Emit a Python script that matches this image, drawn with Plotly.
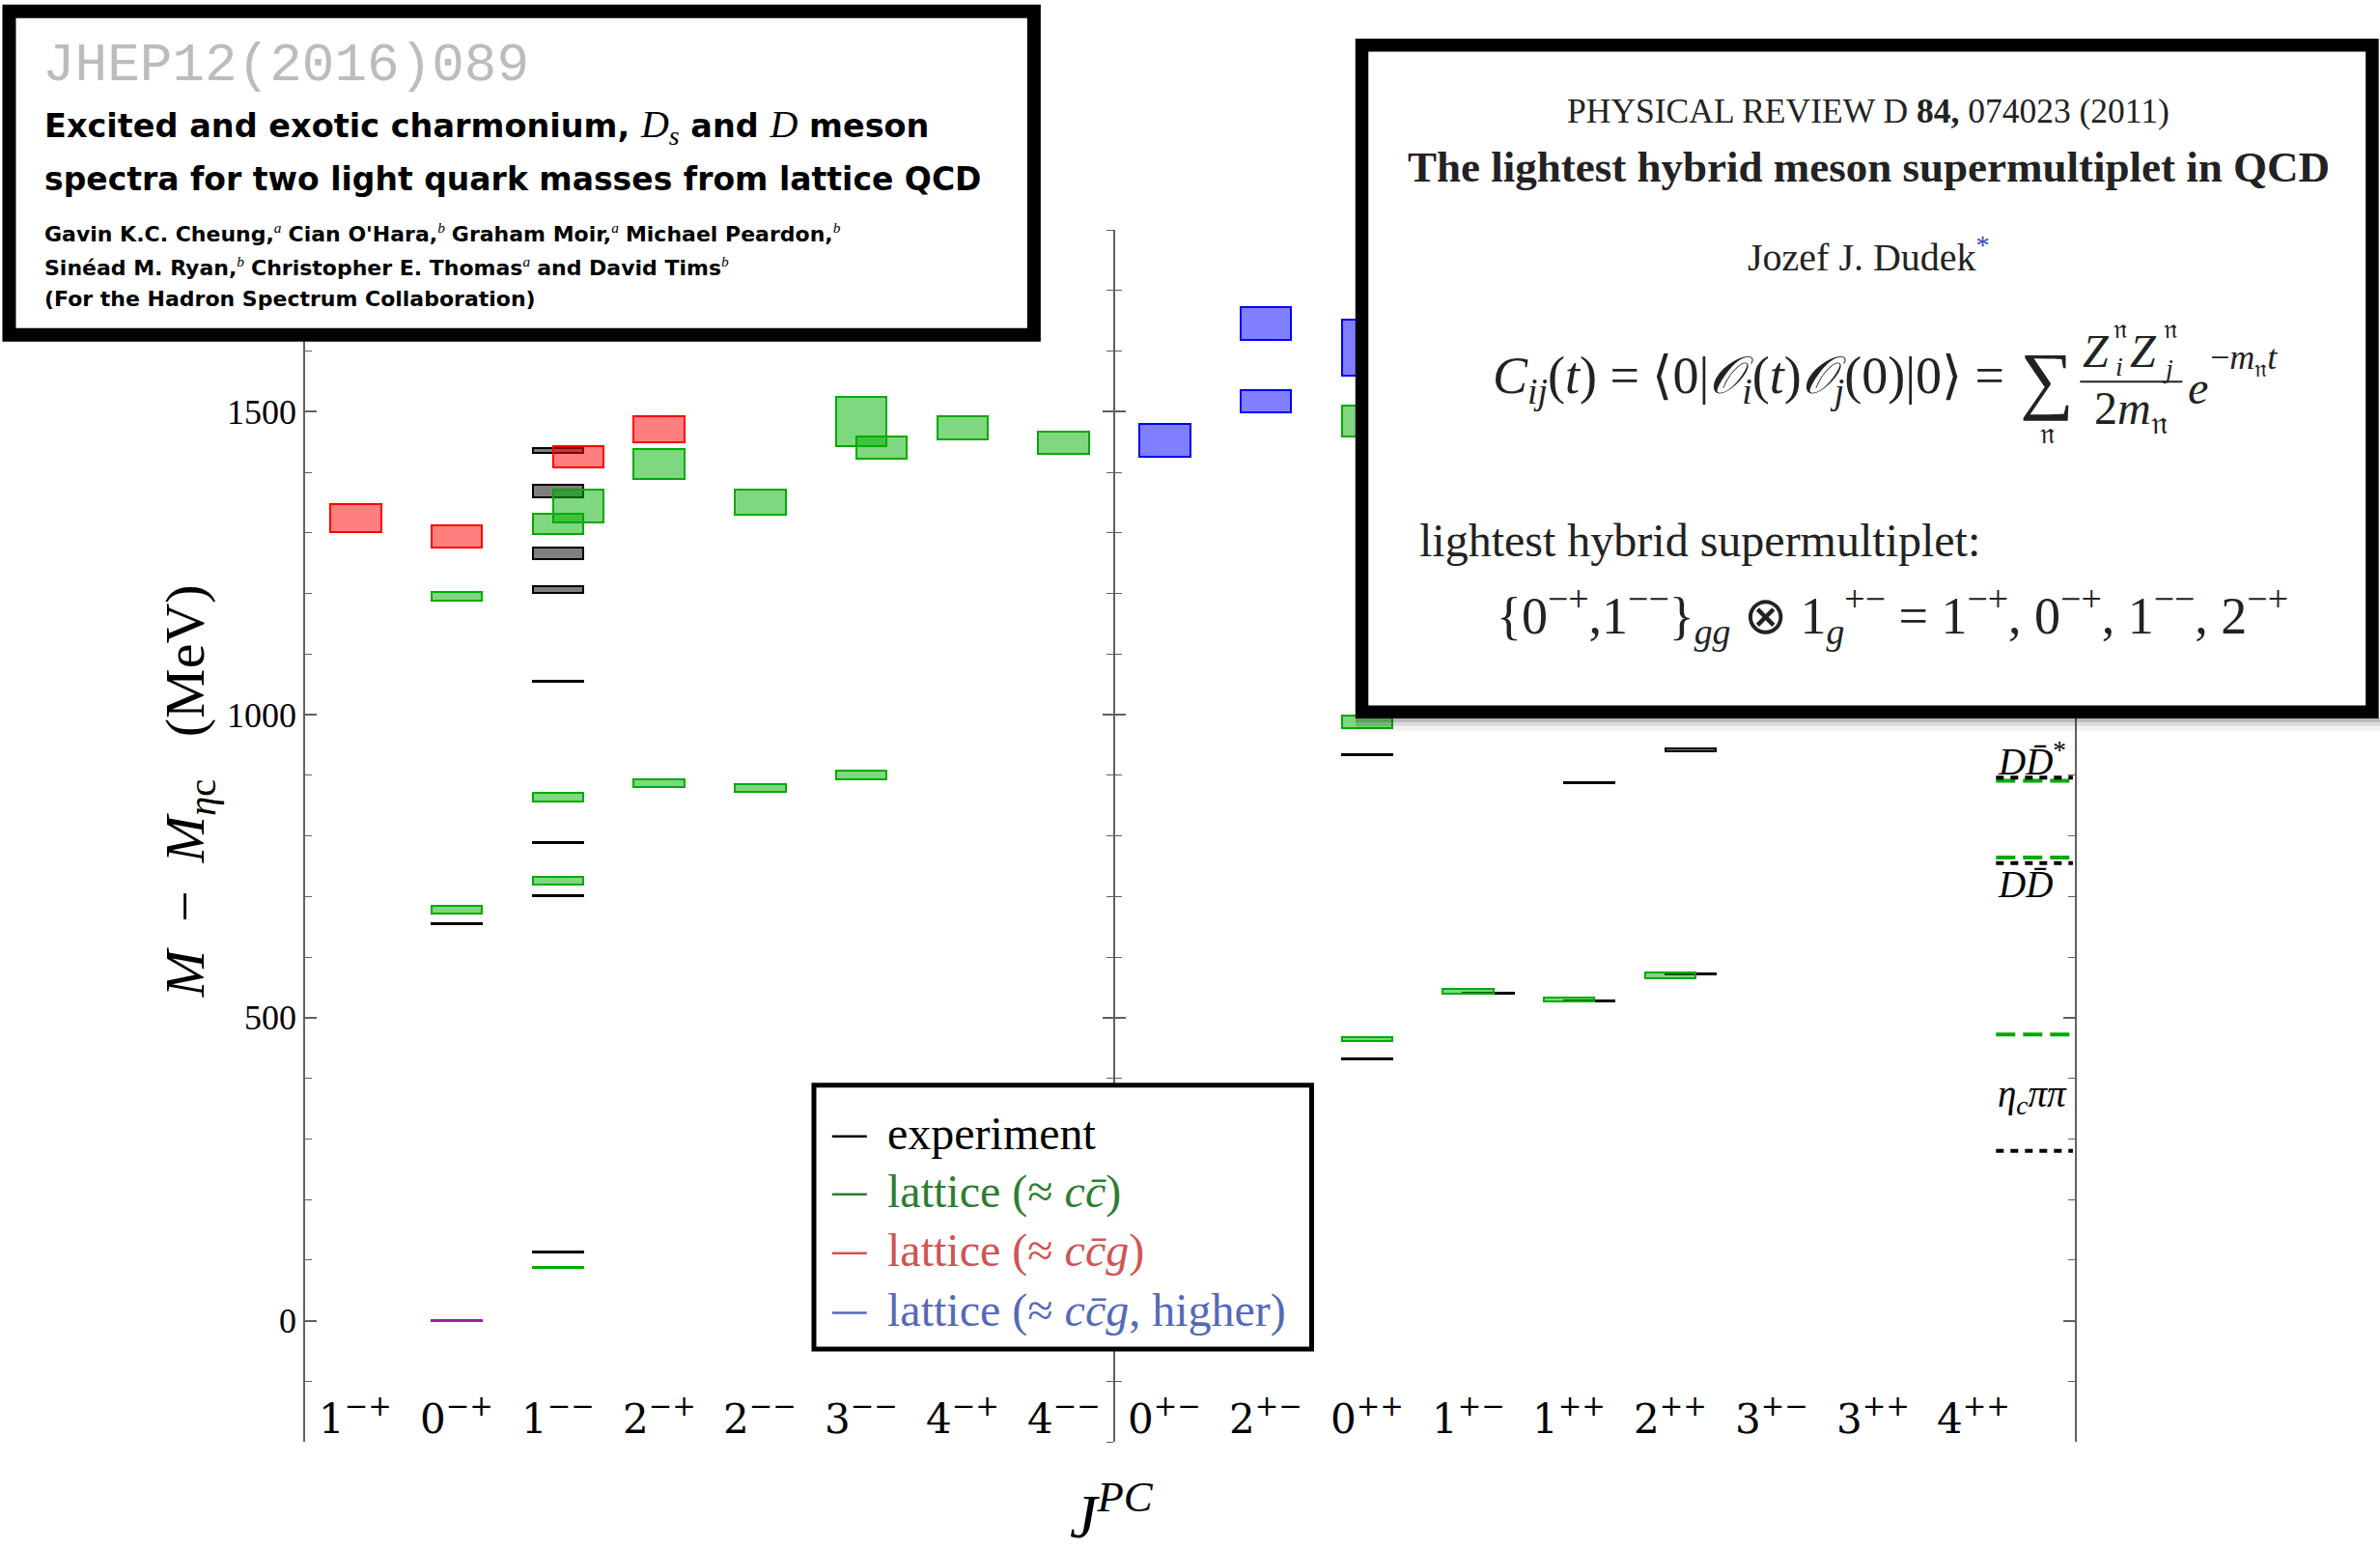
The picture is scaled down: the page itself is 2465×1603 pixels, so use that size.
import plotly.graph_objects as go

# ---------------- data ----------------
categories = ["1<sup>−+</sup>", "0<sup>−+</sup>", "1<sup>−−</sup>", "2<sup>−+</sup>", "2<sup>−−</sup>",
              "3<sup>−−</sup>", "4<sup>−+</sup>", "4<sup>−−</sup>",
              "0<sup>+−</sup>", "2<sup>+−</sup>", "0<sup>++</sup>", "1<sup>+−</sup>", "1<sup>++</sup>",
              "2<sup>++</sup>", "3<sup>+−</sup>", "3<sup>++</sup>", "4<sup>++</sup>"]

# experiment (black)
exp_cat = [1, 2, 2, 2, 2, 2, 2, 2, 2, 10, 10, 11, 12, 12, 13, 13]
exp_shift = [0, 0, 0, 0, 0, 0, 0, 0, 0, 0, 0, 1, 1, 1, 1, 1]
exp_lo = [653.5, 112.5, 701, 788, 1054, 1201, 1257, 1359, 1432, 430.5, 933.5, 540, 526, 887.5, 571, 940]
exp_hi = [655.5, 114.0, 702.5, 789.5, 1055.5, 1212, 1276, 1379, 1440, 432.0, 935.0, 541.5, 527.5, 889.0, 572.5, 945]

# lattice ~ c cbar (green)
cc_cat = [1, 1, 2, 2, 2, 2, 2, 3, 3, 4, 4, 5, 5, 5, 6, 7, 10, 10, 10, 11, 12, 13]
cc_shift = [0, 0, 0, 0, 0, 0, 1, 0, 0, 0, 0, 0, 0, 1, 0, 0, 0, 0, 0, 0, 0, 0]
cc_lo = [672, 1188, 87, 720, 857, 1298, 1317, 880, 1389, 872, 1330, 894, 1443, 1423, 1454, 1431, 462, 978, 1459, 540, 526, 565]
cc_hi = [685, 1202, 89, 733, 871, 1332, 1371, 894, 1438, 885, 1372, 908, 1524, 1459, 1492, 1467, 468, 999, 1510, 548, 533, 574]

# lattice ~ c cbar g (red)
hy_cat = [0, 1, 2, 3]
hy_shift = [0, 0, 1, 0]
hy_lo = [1302, 1276, 1408, 1449]
hy_hi = [1347, 1312, 1443, 1493]

# lattice ~ c cbar g, higher (blue)
hh_cat = [8, 9, 9, 10]
hh_shift = [0, 0, 0, 0]
hh_lo = [1425, 1499, 1619, 1560]
hh_hi = [1480, 1535, 1672, 1652]

# eta_c reference (purple)
ref_cat = [1]
ref_lo = [-1.2]
ref_hi = [1.2]

# thresholds
thr_labels = ["<i>D</i><i>D̄</i><sup>*</sup>", "<i>D</i><i>D̄</i>", "<i>η</i><sub><i>c</i></sub><i>ππ</i>"]
thr_label_y = [926, 720, 369]
thr_exp = [896, 755, 280]
thr_lat = [891, 764, 472]

legend_labels = ["experiment", "lattice (≈ <i>cc̄</i>)", "lattice (≈ <i>cc̄g</i>)",
                 "lattice (≈ <i>cc̄g</i>, higher)"]

# ---------------- geometry helpers ----------------
W_FIG, H_FIG = 2465, 1603
L, R, T, B = 316.4, 2148.7, 238.2, 1493.4
PW, PH = R - L, B - T


def px(x):
    return (x - L) / PW


def py(y):
    return (B - y) / PH


SHIFT = 0.2
BW = 0.5
SERIF = "Liberation Serif"

fig = go.Figure()


def add_boxes(cats, shifts, lo, hi, fill, line, lw=2):
    xs = [c + SHIFT * s for c, s in zip(cats, shifts)]
    fig.add_trace(go.Bar(
        x=xs, y=[h - l for l, h in zip(lo, hi)], base=lo, width=BW,
        marker=dict(color=fill, line=dict(color=line, width=lw)),
        showlegend=False, hoverinfo="skip"))


add_boxes(exp_cat, exp_shift, exp_lo, exp_hi, "rgba(0,0,0,0.5)", "black")
add_boxes(ref_cat, [0], ref_lo, ref_hi, "rgba(160,30,160,0.5)", "rgb(160,30,160)")
add_boxes(cc_cat, cc_shift, cc_lo, cc_hi, "rgba(0,175,0,0.5)", "rgb(0,170,0)")
add_boxes(hy_cat, hy_shift, hy_lo, hy_hi, "rgba(255,0,0,0.5)", "rgb(255,0,0)")
add_boxes(hh_cat, hh_shift, hh_lo, hh_hi, "rgba(0,0,255,0.5)", "rgb(0,0,240)")

# thresholds
TX0, TX1 = 16.22, 16.98
for yv in thr_lat:
    fig.add_trace(go.Scatter(x=[TX0, TX1], y=[yv, yv], mode="lines",
                             line=dict(color="rgb(0,170,0)", width=4, dash="20px,8px"),
                             showlegend=False, hoverinfo="skip"))
for yv in thr_exp:
    fig.add_trace(go.Scatter(x=[TX0, TX1], y=[yv, yv], mode="lines",
                             line=dict(color="black", width=4, dash="8px,7px"),
                             showlegend=False, hoverinfo="skip"))

# invisible traces to realise extra axes
for ax in ["y2", "y3", "y4"]:
    fig.add_trace(go.Scatter(x=[None], y=[None], yaxis=ax, showlegend=False, hoverinfo="skip"))

AXC = "#606060"
common_y = dict(range=[-200, 1800], tickmode="linear", tick0=0, dtick=500, showgrid=False,
                zeroline=False, showline=True, linecolor=AXC, linewidth=1.5,
                tickcolor=AXC, tickwidth=1.5, ticklen=12,
                minor=dict(dtick=100, ticklen=7, tickcolor=AXC, tickwidth=1.2, showgrid=False))

yaxis = dict(common_y, ticks="inside", tickfont=dict(family=SERIF, size=36, color="black"))
yaxis["minor"] = dict(common_y["minor"], ticks="inside")
yaxis2 = dict(common_y, overlaying="y", side="right", ticks="inside", showticklabels=False)
yaxis2["minor"] = dict(common_y["minor"], ticks="inside")
midpos = (7.5 + 0.5) / 17.5
yaxis3 = dict(common_y, overlaying="y", anchor="free", position=midpos, side="left",
              ticks="inside", showticklabels=False, ticklen=11)
yaxis3["minor"] = dict(common_y["minor"], ticks="inside")
yaxis4 = dict(common_y, overlaying="y", anchor="free", position=midpos, side="left",
              ticks="outside", showticklabels=False, ticklen=11)
yaxis4["minor"] = dict(common_y["minor"], ticks="outside")

annotations = []


def text(x, y, s, size, family=SERIF, color="black", xa="center", ya="middle", angle=0):
    annotations.append(dict(x=px(x), y=py(y), xref="paper", yref="paper", text=s, showarrow=False,
                            font=dict(size=size, family=family, color=color),
                            xanchor=xa, yanchor=ya, textangle=angle))


# category labels
for i, lab in enumerate(categories):
    annotations.append(dict(x=i, y=-158, xref="x", yref="y", text=lab, showarrow=False,
                            font=dict(size=42, family="DejaVu Serif", color="black"),
                            xanchor="center", yanchor="middle"))
# threshold labels
for lab, yv in zip(thr_labels, thr_label_y):
    annotations.append(dict(x=TX0, y=yv, xref="x", yref="y", text=lab, showarrow=False,
                            font=dict(size=39, family=SERIF, color="black"),
                            xanchor="left", yanchor="middle"))

# axis titles
text(196, 820, "<i>M</i>  −  <i>M</i><sub><i>η</i>c</sub>   (MeV)", 58, angle=-90)
text(1152, 1566, "<i>J</i><sup><i>PC</i></sup>", 64)

shapes = []

# legend
shapes.append(dict(type="rect", xref="paper", yref="paper", x0=px(843.2), x1=px(1358.5),
                   y0=py(1124.2), y1=py(1397.5), line=dict(color="black", width=5),
                   fillcolor="white", layer="above"))
leg_colors = ["black", "rgb(45,125,50)", "rgb(205,85,85)", "rgb(85,105,185)"]
leg_y = [1177, 1237, 1298, 1360]
for lab, col, yy in zip(legend_labels, leg_colors, leg_y):
    shapes.append(dict(type="line", xref="paper", yref="paper", x0=px(862), x1=px(898),
                       y0=py(yy), y1=py(yy), line=dict(color=col, width=2.5), layer="above"))
    text(917, yy - 3, lab, 48, color=col, xa="left")

# JHEP box
shapes.append(dict(type="rect", xref="paper", yref="paper", x0=px(10), x1=px(1071),
                   y0=py(12), y1=py(347), line=dict(color="black", width=14),
                   fillcolor="white", layer="above"))
SANS = "DejaVu Sans"
DSTY = "font-family:Liberation Serif;font-weight:normal;font-size:40px"
text(43, 68, "JHEP12(2016)089", 56, family="Liberation Mono", color="#bcbcbc", xa="left")
text(45, 131, f"<b>Excited and exotic charmonium, <span style='{DSTY}'><i>D<sub>s</sub></i></span> and "
              f"<span style='{DSTY}'><i>D</i></span> meson</b>", 33.5, family=SANS, xa="left")
text(45, 186, "<b>spectra for two light quark masses from lattice QCD</b>", 33, family=SANS, xa="left")
SUP = "<sup><span style='font-family:Liberation Serif;font-weight:normal'><i>{}</i></span></sup>"
text(45, 241, "<b>Gavin K.C. Cheung,</b>" + SUP.format("a") + " <b>Cian O'Hara,</b>" + SUP.format("b") +
     " <b>Graham Moir,</b>" + SUP.format("a") + " <b>Michael Peardon,</b>" + SUP.format("b"),
     22, family=SANS, xa="left")
text(45, 276, "<b>Sinéad M. Ryan,</b>" + SUP.format("b") + " <b>Christopher E. Thomas</b>" + SUP.format("a") +
     " <b>and David Tims</b>" + SUP.format("b"), 22, family=SANS, xa="left")
text(45, 310, "<b>(For the Hadron Spectrum Collaboration)</b>", 22, family=SANS, xa="left")

# PRD box with shadow
for y0s, y1s, a in [(744, 748, 0.28), (748, 752, 0.14), (752, 757, 0.05)]:
    shapes.append(dict(type="rect", xref="paper", yref="paper", x0=px(1404), x1=px(2465),
                       y0=py(y0s), y1=py(y1s), line=dict(width=0),
                       fillcolor=f"rgba(0,0,0,{a})", layer="above"))
shapes.append(dict(type="rect", xref="paper", yref="paper", x0=px(1410.5), x1=px(2456.5),
                   y0=py(47), y1=py(737.5), line=dict(color="black", width=13.5),
                   fillcolor="white", layer="above"))
TXT = "#222222"
text(1935, 115, "PHYSICAL REVIEW D <b>84,</b> 074023 (2011)", 35.5, color=TXT)
text(1935, 173, "<b>The lightest hybrid meson supermultiplet in QCD</b>", 45, color=TXT)
text(1935, 264, "Jozef J. Dudek<sup><span style='color:#3040c0'>*</span></sup>", 40, color=TXT)

# formula
text(2078, 393, "<i>C</i><sub><i>ij</i></sub>(<i>t</i>) = ⟨0|<i>𝒪</i><sub><i>i</i></sub>(<i>t</i>)"
                "<i>𝒪</i><sub><i>j</i></sub>(0)|0⟩ =", 54, color=TXT, xa="right")
text(2120, 393, "∑", 78, color=TXT)
text(2120, 449, "𝔫", 30, color=TXT)
text(2171, 364, "<i>Z</i>", 48, color=TXT)
text(2196, 341, "𝔫", 28, color=TXT)
text(2195, 380, "<i>i</i>", 28, color=TXT)
text(2220, 364, "<i>Z</i>", 48, color=TXT)
text(2248, 341, "𝔫", 28, color=TXT)
text(2245, 382, "<i>j</i>", 28, color=TXT)
shapes.append(dict(type="line", xref="paper", yref="paper", x0=px(2154), x1=px(2260),
                   y0=py(395.5), y1=py(395.5), line=dict(color=TXT, width=2), layer="above"))
text(2207, 426, "2<i>m</i><sub>𝔫</sub>", 48, color=TXT)
text(2276, 402, "<i>e</i>", 48, color=TXT)
text(2287, 373, "−<i>m</i><sub>𝔫</sub><i>t</i>", 36, color=TXT, xa="left")

text(1468, 560, "lightest hybrid supermultiplet:", 48, color=TXT, xa="left")
text(1960, 637, "{0<sup>−+</sup>,1<sup>−−</sup>}<sub><i>gg</i></sub> ⊗ 1<sub><i>g</i></sub><sup>+−</sup> = "
                "1<sup>−+</sup>, 0<sup>−+</sup>, 1<sup>−−</sup>, 2<sup>−+</sup>", 54, color=TXT)

fig.update_layout(
    template="none",
    width=W_FIG, height=H_FIG, autosize=False,
    margin=dict(l=L, r=W_FIG - R, t=T, b=H_FIG - B, pad=0),
    paper_bgcolor="white", plot_bgcolor="rgba(0,0,0,0)",
    barmode="overlay", bargap=0,
    xaxis=dict(range=[-0.5, 17.0], showgrid=False, zeroline=False, showline=False,
               showticklabels=False, ticks="", automargin=False),
    yaxis=dict(yaxis, automargin=False), yaxis2=dict(yaxis2, automargin=False),
    yaxis3=dict(yaxis3, automargin=False), yaxis4=dict(yaxis4, automargin=False),
    shapes=shapes, annotations=annotations, showlegend=False,
)

fig.write_html("out.html", config={"displayModeBar": False},
               post_script="document.body.style.margin='0px';document.body.style.padding='0px';"
                           "document.body.style.overflow='hidden';")
